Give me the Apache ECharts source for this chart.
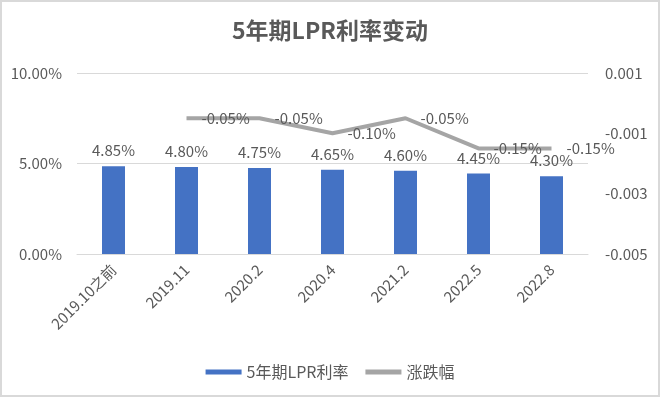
<!DOCTYPE html>
<html>
<head>
<meta charset="utf-8">
<script src="https://cdn.jsdelivr.net/npm/echarts@6/dist/echarts.min.js"></script>
<style>
  body { margin: 0; background: #fff; }
  #wrap { position: relative; width: 660px; height: 397px; }
  #chart { position: absolute; left: 0; top: 0; width: 660px; height: 397px; }
  #frame { position: absolute; inset: 0; border: 2px solid #d9d9d9; pointer-events: none; }
</style>
</head>
<body>
<div id="wrap">
  <div id="chart"></div>
  <div id="frame"></div>
</div>
<script>
// 数据
const categories = ['2019.10之前', '2019.11', '2020.2', '2020.4', '2021.2', '2022.5', '2022.8']
const lprRates = [0.0485, 0.0480, 0.0475, 0.0465, 0.0460, 0.0445, 0.0430]
const changes = [null, -0.0005, -0.0005, -0.0010, -0.0005, -0.0015, -0.0015]

const textColor = '#595959'
const font = '"Noto Sans CJK SC", "Noto Sans", sans-serif'
const pct = v => (v * 100).toFixed(2) + '%'

const myChart = echarts.init(document.getElementById('chart'))

const option = {
  animation: false,
  textStyle: { fontFamily: font, color: textColor },
  title: {
    text: '5年期LPR利率变动',
    left: 'center',
    top: 19,
    padding: 0,
    textStyle: { fontSize: 23, fontWeight: 'bold', color: textColor, fontFamily: font }
  },
  legend: {
    left: 'center',
    top: 359,
    itemWidth: 36,
    itemHeight: 5,
    itemGap: 17,
    textStyle: { fontSize: 16, color: textColor, fontFamily: font },
    data: [
      { name: '5年期LPR利率', icon: 'rect' },
      { name: '涨跌幅', icon: 'rect' }
    ]
  },
  grid: { left: 77, right: 72, top: 73, bottom: 143 },
  xAxis: {
    type: 'category',
    data: categories,
    axisLine: { lineStyle: { color: '#d9d9d9', width: 1 } },
    axisTick: { show: false },
    axisLabel: { rotate: 45, margin: 13, fontSize: 15, color: textColor, fontFamily: font, interval: 0 }
  },
  yAxis: [
    {
      type: 'value',
      min: 0,
      max: 0.1,
      interval: 0.05,
      axisLine: { show: false },
      axisTick: { show: false },
      splitLine: { lineStyle: { color: '#d9d9d9', width: 1 } },
      axisLabel: { formatter: pct, margin: 15, fontSize: 15, color: textColor, fontFamily: font }
    },
    {
      type: 'value',
      min: -0.005,
      max: 0.001,
      interval: 0.002,
      axisLine: { show: false },
      axisTick: { show: false },
      splitLine: { show: false },
      axisLabel: { formatter: v => v.toFixed(3), margin: 17, fontSize: 15, color: textColor, fontFamily: font }
    }
  ],
  series: [
    {
      name: '5年期LPR利率',
      type: 'bar',
      data: lprRates,
      barWidth: 23,
      itemStyle: { color: '#4472c4' },
      label: {
        show: true,
        position: 'top',
        distance: 8,
        formatter: p => pct(p.value),
        fontSize: 15,
        color: textColor,
        fontFamily: font
      }
    },
    {
      name: '涨跌幅',
      type: 'line',
      yAxisIndex: 1,
      data: changes,
      symbol: 'circle',
      symbolSize: 0.1,
      lineStyle: { color: '#a5a5a5', width: 4 },
      itemStyle: { color: '#a5a5a5' },
      label: {
        show: true,
        position: 'right',
        distance: 15,
        formatter: p => pct(p.value),
        fontSize: 15,
        color: textColor,
        fontFamily: font
      }
    }
  ]
}

myChart.setOption(option)
</script>
</body>
</html>
